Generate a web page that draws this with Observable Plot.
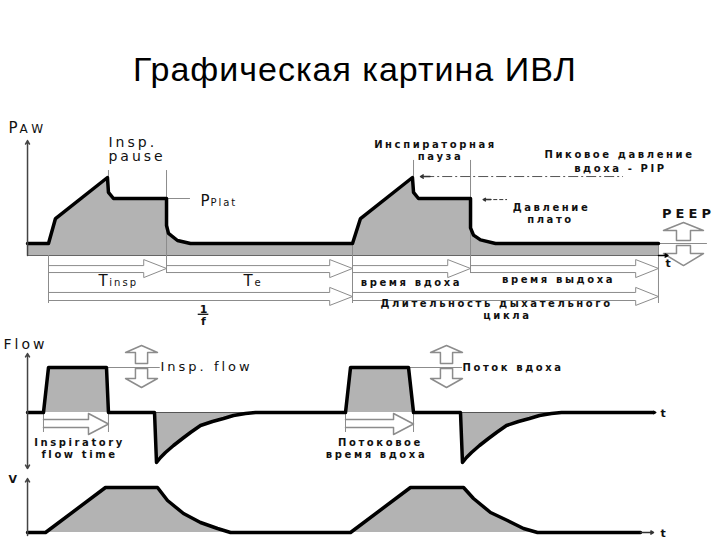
<!DOCTYPE html>
<html>
<head>
<meta charset="utf-8">
<script src="https://cdn.jsdelivr.net/npm/d3@7"></script>
<script src="https://cdn.jsdelivr.net/npm/@observablehq/plot@0.6"></script>
<style>
  body { margin: 0; background: #fff; }
  #wrap { position: relative; width: 720px; height: 540px; overflow: hidden; background: #fff; }
  #title { position: absolute; left: 133px; top: 53px; font-family: "Liberation Sans", Arial, sans-serif;
           font-size: 34px; line-height: 33px; letter-spacing: 1px; color: #000; white-space: nowrap; }
  .panel { position: absolute; left: 0; }
  .panel svg { overflow: visible; }
</style>
</head>
<body>
<div id="wrap">
  <div id="title">Графическая картина ИВЛ</div>
  <div class="panel" id="p1" style="top:110px"></div>
  <div class="panel" id="p2" style="top:325px"></div>
  <div class="panel" id="p3" style="top:472px"></div>
</div>
<script>
// ---------------- DATA ----------------
// Airway pressure (cmH2O) vs time (s)
const pawT = [-0.276, 0, 0.092, 0.776, 0.789, 0.855, 1.553, 1.553, 1.579, 1.697, 1.868, 4.0, 4.105, 4.789, 4.803, 4.868, 5.553, 5.553, 5.592, 5.684, 5.882, 8.026];
const pawP = [5, 5, 15.4, 32.5, 26.3, 23.75, 23.75, 12.5, 9.2, 6.25, 5, 5, 15.4, 32.5, 26.3, 23.75, 23.75, 11.5, 8.5, 6.5, 5, 5];
// Flow (L/min) vs time
const flowT = [-0.276, -0.066, 0, 0.763, 0.789, 1.395, 1.421, 1.474, 1.539, 1.645, 1.763, 1.868, 2.0, 2.158, 2.303, 2.434, 2.592, 2.724,
               3.908, 3.974, 4.737, 4.803, 5.421, 5.447, 5.5, 5.566, 5.671, 5.789, 5.895, 6.026, 6.184, 6.329, 6.461, 6.618, 6.75, 7.961];
const flowF = [0, 0, 45, 45, 0, 0, -50, -45, -40, -33, -26, -20, -13, -9, -6, -3, -1, 0,
               0, 45, 45, 0, 0, -50, -45, -40, -33, -26, -20, -13, -9, -6, -3, -1, 0, 0];
// Volume (mL) vs time
const volT = [-0.276, -0.039, 0.75, 1.434, 1.566, 1.776, 2.0, 2.224, 2.395, 3.974, 4.763, 5.461, 5.592, 5.816, 6.039, 6.25, 6.434, 7.789];
const volV = [0, 0, 450, 450, 320, 190, 100, 40, 0, 0, 450, 450, 340, 200, 120, 40, 0, 0];

// Key times
const axisT = -0.276;
const breathStart = [0, 4.0];
const pauseStart = [0.789, 4.803];
const expStart = [1.553, 5.553];
const cycleEnd = 8.026;
// Expiratory flow (negative) intervals
const expFlowStart = [1.421, 5.447];
const expFlowEnd = [2.724, 6.75];

// Time-interval arrows in the pressure panel (row 1 = phases, row 2 = full cycle)
const phaseStart = [0, 1.553, 4.0, 5.553];
const phaseEnd = [1.553, 4.0, 5.553, 8.026];
const cycleStart = [0, 4.0];
const cycleStop = [4.0, 8.026];
// Inspiratory flow time arrows
const flowTimeStart = [-0.066, 3.908];
const flowTimeEnd = [0.789, 4.803];

// Labels
const pawRuText = ["Инспираторная", "пауза", "Пиковое давление", "вдоха - PIP", "Давление", "плато",
                   "время вдоха", "время выдоха", "Длительность дыхательного", "цикла"];
const pawRuT = [5.092, 5.158, 7.513, 7.526, 6.618, 6.605, 4.776, 6.711, 5.895, 6.039];
const pawRuP = [45, 40, 40.8, 34.6, 18.75, 13.75, -12.9, -11.25, -21.5, -26.4];
const pawEnText = ["Insp.", "pause"];
const pawEnT = [0.789, 0.789];
const pawEnP = [45.4, 39.2];
const flowEnText = ["Insp. flow"];
const flowRuText = ["Поток вдоха"];
const flowBoldText = ["Inspiratory", "flow time", "Потоковое", "время вдоха"];
const flowBoldT = [0.408, 0.408, 4.368, 4.316];
const flowBoldF = [-33.5, -45.2, -33.5, -45.2];

// ---------------- HELPERS ----------------
const X = {domain: [0, 4], range: [48, 352]};
const FONT = "DejaVu Sans, Verdana, sans-serif";
const INK = "#111";
const GRID = "#8c8c8c";
const FILL = "#b3b3b3";
const SPACING = {"bold-10": 2.6, "normal-14": 3, "normal-13": 3, "bold-13": 4, "normal-10": 2, "normal-12": 4};
const zip = (ts, vs) => ts.map((t, i) => ({t, v: vs[i]}));

function hArrows(starts, ends, g) {
  const pts = [];
  starts.forEach((t0, i) => {
    const t1 = ends[i], b = t1 - g.len;
    [[t0, g.top], [b, g.top], [b, g.hTop], [t1, g.tip], [b, g.hBot], [b, g.bot], [t0, g.bot]]
      .forEach(([t, v]) => pts.push({t, v, z: i}));
  });
  return pts;
}
function vArrow(tc, g, id) {
  const s = g.sw, h = g.hw;
  return [[tc - s, g.base], [tc - s, g.neck], [tc - h, g.neck], [tc, g.tip], [tc + h, g.neck], [tc + s, g.neck], [tc + s, g.base], [tc - s, g.base]]
    .map(([t, v]) => ({t, v, z: id}));
}
function labels(texts, ts, vs) { return texts.map((s, i) => ({s, t: ts[i], v: vs[i]})); }
function space(svg) {
  svg.querySelectorAll("g[font-size]").forEach(g => {
    const k = (g.getAttribute("font-weight") || "normal") + "-" + parseFloat(g.getAttribute("font-size"));
    if (SPACING[k] != null) g.style.letterSpacing = SPACING[k] + "px";
  });
  return svg;
}
const txt = (extra) => ({x: "t", y: "v", text: "s", fontFamily: FONT, fill: INK, lineAnchor: "bottom", ...extra});

// ---------------- PANEL 1: PAW ----------------
const paw = zip(pawT, pawP);
const row1 = {top: -4.2, bot: -7.1, hTop: -1.7, hBot: -9.2, tip: -5.4, len: 0.30};
const row2 = {top: -15.4, bot: -18.75, hTop: -13.3, hBot: -20.8, tip: -17.1, len: 0.30};
const peepUp = vArrow(8.355, {sw: 0.092, hw: 0.263, base: 6.25, neck: 10.4, tip: 13.75}, "u");
const peepDn = vArrow(8.355, {sw: 0.092, hw: 0.263, base: 4.2, neck: 0.83, tip: -4.2}, "d");

const vlines1 = [
  {t: pauseStart[0], a: 32.5, b: 35.4}, {t: expStart[0], a: -7.5, b: 35.4},
  {t: breathStart[0], a: 0, b: -20}, {t: breathStart[1], a: 5, b: -20},
  {t: pauseStart[1], a: 32.5, b: 39.6}, {t: expStart[1], a: -7.5, b: 39.6},
  {t: cycleEnd, a: 5, b: -20}
];

const p1 = Plot.plot({
  width: 720, height: 215, margin: 0,
  x: {...X, axis: null}, y: {domain: [0, 40], range: [145, 49], axis: null},
  marks: [
    Plot.areaY(paw, {x: "t", y1: 0, y2: "v", fill: FILL}),
    Plot.ruleY([{v: 0}], {y: "v", x1: pawT[0], x2: cycleEnd, stroke: "#666", strokeWidth: 1.2}),
    Plot.ruleY([{v: 5}], {y: "v", x1: cycleEnd, x2: 8.67, stroke: GRID}),
    Plot.ruleY([{v: 23.75}], {y: "v", x1: expStart[0], x2: 1.868, stroke: GRID}),
    Plot.ruleX(vlines1, {x: "t", y1: "a", y2: "b", stroke: GRID}),
    Plot.line(hArrows(phaseStart, phaseEnd, row1), {x: "t", y: "v", z: "z", stroke: GRID, strokeWidth: 1}),
    Plot.line(hArrows(cycleStart, cycleStop, row2), {x: "t", y: "v", z: "z", stroke: GRID, strokeWidth: 1}),
    Plot.line(peepUp, {x: "t", y: "v", stroke: GRID}),
    Plot.line(peepDn, {x: "t", y: "v", stroke: GRID}),
    Plot.line(paw, {x: "t", y: "v", stroke: "#000", strokeWidth: 3.5, strokeLinejoin: "round"}),
    // PIP and plateau pointers
    Plot.ruleY([{v: 32.9}], {y: "v", x1: 4.95, x2: 7.566, stroke: "#555", strokeDasharray: "10,3,2,3"}),
    Plot.arrow([{a: 5.02, b: 4.895, v: 32.9}], {x1: "a", x2: "b", y1: "v", y2: "v", stroke: "#333", headLength: 6}),
    Plot.ruleY([{v: 23.3}], {y: "v", x1: 5.78, x2: 6.04, stroke: "#333", strokeDasharray: "4,2"}),
    Plot.arrow([{a: 5.82, b: 5.72, v: 23.3}], {x1: "a", x2: "b", y1: "v", y2: "v", stroke: "#333", headLength: 5}),
    // axes
    Plot.arrow([{t: axisT, a: 0, b: 47.9}], {x: "t", y1: "a", y2: "b", stroke: "#444", headLength: 4}),
    Plot.arrow([{a: cycleEnd, b: 8.15, v: 0}], {x1: "a", x2: "b", y1: "v", y2: "v", stroke: "#000", headLength: 4}),
    // fraction bar 1/f
    Plot.ruleY([{v: -24.5}], {y: "v", x1: 1.97, x2: 2.11, stroke: INK, strokeWidth: 1.3}),
    // labels
    Plot.text(labels(pawRuText, pawRuT, pawRuP), txt({fontWeight: "bold", fontSize: 10})),
    Plot.text(labels(pawEnText, pawEnT, pawEnP), txt({fontSize: 14, textAnchor: "start"})),
    Plot.text([{s: "PEEP", t: 8.421, v: 15.8}], txt({fontWeight: "bold", fontSize: 13})),
    Plot.text([{s: "P", t: -0.526, v: 51.25}, {s: "P", t: 2.0, v: 20.8}, {s: "T", t: 0.658, v: -12.5}, {s: "T", t: 2.566, v: -12.5}],
      txt({fontSize: 15, textAnchor: "start"})),
    Plot.text([{s: "AW", t: -0.38, v: 51.25}], txt({fontSize: 12, textAnchor: "start"})),
    Plot.text([{s: "Plat", t: 2.13, v: 20.8}, {s: "insp", t: 0.80, v: -12.5}, {s: "e", t: 2.71, v: -12.5}],
      txt({fontSize: 10, textAnchor: "start"})),
    Plot.text([{s: "1", t: 2.039, v: -23.75}, {s: "f", t: 2.039, v: -28.9}], txt({fontWeight: "bold", fontSize: 11})),
    Plot.text([{s: "t", t: 8.12, v: -4.6}], txt({fontWeight: "bold", fontSize: 11, textAnchor: "start"}))
  ]
});
document.getElementById("p1").append(space(p1));

// ---------------- PANEL 2: FLOW ----------------
const flow = zip(flowT, flowF);
const ftRow = {top: -7, bot: -15, hTop: -1, hBot: -22, tip: -11.5, len: 0.263};
const fUp = [1.224, 5.237].flatMap((c, i) => vArrow(c, {sw: 0.08, hw: 0.21, base: 49, neck: 60, tip: 67}, "u" + i));
const fDn = [1.224, 5.237].flatMap((c, i) => vArrow(c, {sw: 0.08, hw: 0.21, base: 44, neck: 34, tip: 25}, "d" + i));
const vlines2 = flowTimeStart.concat(flowTimeEnd).map(t => ({t, a: 0, b: -20}));

const p2 = Plot.plot({
  width: 720, height: 147, margin: 0,
  x: {...X, axis: null}, y: {domain: [0, 50], range: [87, 37], axis: null},
  marks: [
    Plot.areaY(flow, {x: "t", y1: 0, y2: "v", fill: FILL}),
    Plot.ruleY(expFlowStart.map((a, i) => ({a, b: expFlowEnd[i], v: 0})), {y: "v", x1: "a", x2: "b", stroke: "#555", strokeWidth: 1.2}),
    Plot.ruleX(vlines2, {x: "t", y1: "a", y2: "b", stroke: GRID}),
    Plot.line(hArrows(flowTimeStart, flowTimeEnd, ftRow), {x: "t", y: "v", z: "z", stroke: GRID}),
    Plot.line(fUp, {x: "t", y: "v", z: "z", stroke: GRID}),
    Plot.line(fDn, {x: "t", y: "v", z: "z", stroke: GRID}),
    Plot.ruleY([{v: 45, a: 0.763, b: 1.47}, {v: 45, a: 4.737, b: 5.447}], {y: "v", x1: "a", x2: "b", stroke: GRID}),
    Plot.line(flow, {x: "t", y: "v", stroke: "#000", strokeWidth: 3.5, strokeLinejoin: "round"}),
    Plot.arrow([{t: axisT, a: 0, b: 59}, {t: axisT, a: 0, b: -56}], {x: "t", y1: "a", y2: "b", stroke: "#444", headLength: 4}),
    Plot.arrow([{a: 7.9, b: 7.99, v: 0}], {x1: "a", x2: "b", y1: "v", y2: "v", stroke: "#000", headLength: 3}),
    Plot.text([{s: "Flow", t: -0.592, v: 64}], txt({fontSize: 14, textAnchor: "start"})),
    Plot.text(flowEnText.map(s => ({s, t: 1.474, v: 42})), txt({fontSize: 13, textAnchor: "start"})),
    Plot.text(flowRuText.map(s => ({s, t: 5.447, v: 42})), txt({fontWeight: "bold", fontSize: 10, textAnchor: "start"})),
    Plot.text(labels(flowBoldText, flowBoldT, flowBoldF), txt({fontWeight: "bold", fontSize: 10})),
    Plot.text([{s: "t", t: 8.053, v: -4}], txt({fontWeight: "bold", fontSize: 11, textAnchor: "start"}))
  ]
});
document.getElementById("p2").append(space(p2));

// ---------------- PANEL 3: VOLUME ----------------
const vol = zip(volT, volV);
const p3 = Plot.plot({
  width: 720, height: 68, margin: 0,
  x: {...X, axis: null}, y: {domain: [0, 450], range: [60, 15], axis: null},
  marks: [
    Plot.areaY(vol, {x: "t", y1: 0, y2: "v", fill: FILL}),
    Plot.line(vol, {x: "t", y: "v", stroke: "#000", strokeWidth: 3.5, strokeLinejoin: "round"}),
    Plot.arrow([{t: axisT, a: -30, b: 540}], {x: "t", y1: "a", y2: "b", stroke: "#444", headLength: 4}),
    Plot.arrow([{a: 7.79, b: 7.96, v: 0}], {x1: "a", x2: "b", y1: "v", y2: "v", stroke: "#333", headLength: 3}),
    Plot.text([{s: "V", t: -0.526, v: 500}], txt({fontWeight: "bold", fontSize: 11, textAnchor: "start"})),
    Plot.text([{s: "t", t: 8.053, v: -40}], txt({fontWeight: "bold", fontSize: 11, textAnchor: "start"}))
  ]
});
document.getElementById("p3").append(space(p3));
</script>
</body>
</html>
